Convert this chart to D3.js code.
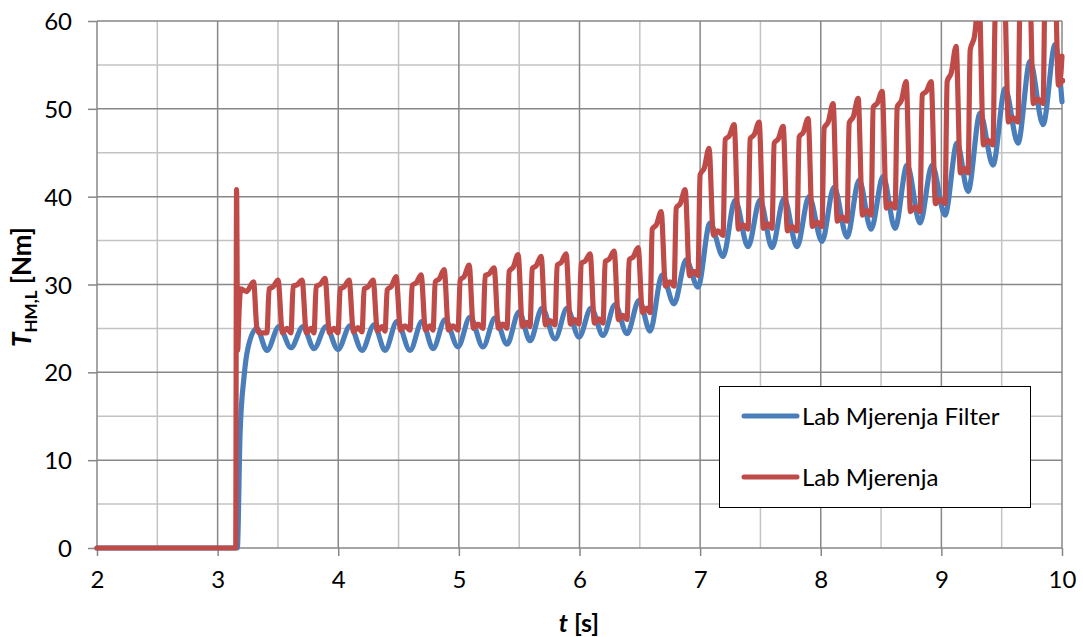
<!DOCTYPE html>
<html><head><meta charset="utf-8">
<script src="https://cdn.jsdelivr.net/npm/d3@7"></script>
<style>
html,body{margin:0;padding:0;background:#fff;}
svg{display:block;font-family:Lato,"Open Sans",sans-serif;}
</style></head>
<body>
<svg id="chart" width="1083" height="637"></svg>
<script>
// ---- data ----
const xTicks = [2,3,4,5,6,7,8,9,10];
const yTicks = [0,10,20,30,40,50,60];
const seriesNames = ["Lab Mjerenja Filter","Lab Mjerenja"];

// start of each oscillation cycle (time of filtered trough), s
const cycleT = [3.409,3.608,3.799,3.998,4.197,4.388,4.595,4.786,4.993,5.200,5.399,5.590,5.797,5.996,6.195,6.394,6.585,6.784,6.982,7.190,7.397,7.596,7.803,8.010,8.218,8.417,8.616,8.823,9.030,9.221,9.428,9.635,9.843];
// filtered signal: trough and following peak of each cycle, Nm
const blueTrough = [22.5,22.8,22.7,22.6,22.5,22.5,22.5,22.7,22.9,22.9,23.2,23.6,23.8,24.0,24.2,24.4,24.7,27.8,29.7,33.2,34.3,34.2,34.3,34.9,35.4,36.3,36.4,37.0,37.9,40.6,43.6,46.1,48.2];
const bluePeak   = [25.2,25.2,25.2,25.3,25.4,25.8,25.8,26.0,26.3,26.2,26.9,27.3,27.3,27.3,27.7,28.2,31.1,32.8,37.0,39.6,39.6,39.8,40.0,41.1,41.9,42.3,43.6,43.6,46.1,49.5,52.3,55.4,57.3];
// raw signal: shoulder, peak and low level of each cycle, Nm
const redShoulder = [29.5,29.8,29.8,29.5,29.5,29.4,29.9,30.3,30.5,31.0,31.5,31.8,32.2,32.4,32.6,32.8,36.3,38.7,42.5,46.5,46.6,46.1,46.8,47.8,48.4,50.2,50.2,51.6,53.1,56.7,60.5,63.0,65.0];
const redPeak     = [30.5,30.5,30.7,30.5,30.5,30.9,31.1,31.7,32.2,31.9,33.4,33.2,33.5,33.5,33.8,34.2,38.3,40.8,45.5,48.2,48.5,48.0,48.9,50.6,51.2,52.0,53.1,53.1,57.1,62.5,64.5,66.5,68.5];
const redLow      = [24.5,24.5,24.5,24.6,24.7,24.8,24.8,24.8,25.0,25.0,25.2,25.4,25.5,25.6,26.0,26.8,29.8,31.0,35.6,36.3,36.4,36.1,36.6,37.2,37.9,38.7,38.3,39.2,42.7,45.9,48.5,50.6,52.7];
// start-up transient and end points
const blueStartT = [2.0,3.163,3.186,3.219,3.252,3.324];
const blueStartV = [0,0,13.0,19.5,22.8,25.0];
const blueEndT = [10.0];
const blueEndV = [50.8];
const redStartT = [2.0,3.150,3.157,3.166,3.178,3.192,3.240,3.298,3.326,3.345];
const redStartV = [0,0,40.8,22.5,27.0,29.5,29.2,30.3,25.0,24.5];
const redEndT = [9.985,10.0];
const redEndV = [53.5,56.0];

// ---- build point lists ----
const bluePts = blueStartT.map((t,i)=>[t,blueStartV[i]]);
cycleT.forEach((t,k)=>{
  bluePts.push([t, blueTrough[k]]);
  bluePts.push([t+0.100, bluePeak[k]]);
});
blueEndT.forEach((t,i)=>bluePts.push([t,blueEndV[i]]));

const redPts = redStartT.map((t,i)=>[t,redStartV[i]]);
cycleT.forEach((t,k)=>{
  const prevLow = k===0 ? redStartV[redStartV.length-1] : redLow[k-1];
  redPts.push([t+0.000, prevLow]);
  redPts.push([t+0.018, redShoulder[k]]);
  redPts.push([t+0.052, redShoulder[k] + 0.25*(redPeak[k]-redShoulder[k])]);
  redPts.push([t+0.092, redPeak[k]]);
  redPts.push([t+0.128, redLow[k]]);
  redPts.push([t+0.165, redLow[k]+0.5]);
});
redEndT.forEach((t,i)=>redPts.push([t,redEndV[i]]));

// ---- layout ----
const L=97, R=1062, T=21, B=548;
const svg = d3.select("#chart");
const x = d3.scaleLinear().domain([2,10]).range([L,R]);
const y = d3.scaleLinear().domain([0,60]).range([B,T]);

const minorX = d3.range(2.5,10,1);
const minorY = d3.range(5,60,10);

const g = svg.append("g");
g.selectAll(".mx").data(minorX).join("line")
  .attr("x1",d=>x(d)).attr("x2",d=>x(d)).attr("y1",T).attr("y2",B)
  .attr("stroke","#c3c3c3").attr("stroke-width",1.5);
g.selectAll(".my").data(minorY).join("line")
  .attr("x1",L).attr("x2",R).attr("y1",d=>y(d)).attr("y2",d=>y(d))
  .attr("stroke","#c3c3c3").attr("stroke-width",1.5);
g.selectAll(".Mx").data(xTicks).join("line")
  .attr("x1",d=>x(d)).attr("x2",d=>x(d)).attr("y1",T).attr("y2",B)
  .attr("stroke","#878787").attr("stroke-width",1.5);
g.selectAll(".My").data(yTicks).join("line")
  .attr("x1",L).attr("x2",R).attr("y1",d=>y(d)).attr("y2",d=>y(d))
  .attr("stroke","#878787").attr("stroke-width",1.5);

// axes (ticks + labels)
const xAxis = d3.axisBottom(x).tickValues(xTicks).tickFormat(d3.format("d")).tickSize(8).tickPadding(15);
const yAxis = d3.axisLeft(y).tickValues(yTicks).tickFormat(d3.format("d")).tickSize(9).tickPadding(16);
const gx = svg.append("g").attr("transform",`translate(0,${B})`).call(xAxis);
const gy = svg.append("g").attr("transform",`translate(${L},0)`).call(yAxis);
[gx,gy].forEach(a=>{
  a.select(".domain").remove();
  a.selectAll(".tick line").attr("stroke","#878787").attr("stroke-width",1.5);
  a.selectAll(".tick text").attr("fill","#000").style("font-size","24px").style("font-family","Lato");
});
gy.selectAll(".tick text").attr("dy","0.36em");
gx.selectAll(".tick text").attr("dy","0.72em");

// clip
svg.append("clipPath").attr("id","plotclip").append("rect")
  .attr("x",L-3).attr("y",T).attr("width",R-L+6).attr("height",B-T+4);

const line = d3.line().x(d=>x(d[0])).y(d=>y(d[1])).curve(d3.curveMonotoneX);
const lines = svg.append("g").attr("clip-path","url(#plotclip)");
lines.append("path").datum(bluePts).attr("d",line)
  .attr("fill","none").attr("stroke","#4A7EBB").attr("stroke-width",5.2)
  .attr("stroke-linejoin","round").attr("stroke-linecap","round");
lines.append("path").datum(redPts).attr("d",line)
  .attr("fill","none").attr("stroke","#BE4B48").attr("stroke-width",5.2)
  .attr("stroke-linejoin","round").attr("stroke-linecap","round");

// axis titles
const yt = svg.append("text").attr("transform","translate(31,287) rotate(-90)")
  .attr("text-anchor","middle").style("font-size","26px").style("font-weight","bold").attr("fill","#000");
yt.append("tspan").text("T").style("font-style","italic");
yt.append("tspan").text("HM,L").style("font-size","17px").attr("dy","6");
yt.append("tspan").text(" [Nm]").attr("dy","-6");

const xt = svg.append("text").attr("x",579).attr("y",632)
  .attr("text-anchor","middle").style("font-size","25px").style("font-weight","bold").attr("fill","#000");
xt.append("tspan").text("t").style("font-style","italic");
xt.append("tspan").text(" [s]");

// legend
const lg = svg.append("g");
lg.append("rect").attr("x",719.5).attr("y",386.5).attr("width",311).attr("height",121)
  .attr("fill","#fff").attr("stroke","#000").attr("stroke-width",1);
const legColors = ["#4A7EBB","#BE4B48"];
const legY = [416,477];
seriesNames.forEach((n,i)=>{
  lg.append("line").attr("x1",744).attr("x2",797).attr("y1",legY[i]).attr("y2",legY[i])
    .attr("stroke",legColors[i]).attr("stroke-width",5).attr("stroke-linecap","round");
  lg.append("text").attr("x",802).attr("y",legY[i]+9).text(n)
    .style("font-size","24px").attr("fill","#000");
});
</script>
</body></html>
